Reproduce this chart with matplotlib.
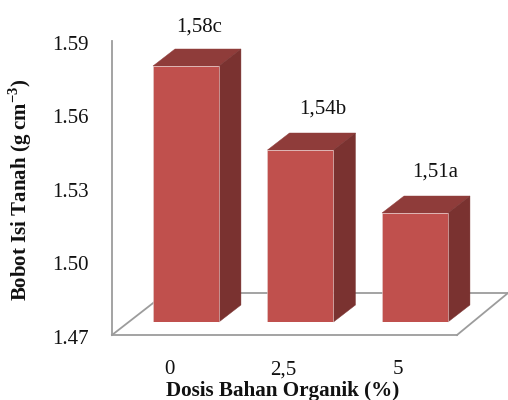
import matplotlib
matplotlib.use("Agg")
import matplotlib.pyplot as plt
from matplotlib.patches import Polygon
from matplotlib.lines import Line2D
from matplotlib.transforms import ScaledTranslation

plt.rcParams["font.family"] = ["Liberation Serif", "DejaVu Serif"]
plt.rcParams["mathtext.fontset"] = "custom"
plt.rcParams["mathtext.rm"] = "Liberation Serif"
plt.rcParams["mathtext.bf"] = "Liberation Serif:bold"

categories = ["0", "2,5", "5"]
values = [1.58, 1.54, 1.51]
letters = ["c", "b", "a"]
y_ticks = [1.47, 1.50, 1.53, 1.56, 1.59]
x_title = "Dosis Bahan Organik (%)"
y_title = r"Bobot Isi Tanah (g cm$^{\mathbf{-3}}$)"

FRONT, TOP, SIDE = "#c0504d", "#8f3c3a", "#7a3230"
AXIS = "#9c9c9c"
TEXT = "#111111"
W, H = 508, 400
DX, DY = 22, 17            # bar depth in pixels
FX, FY = 51, 42            # floor depth in pixels
L, R = 112, 457
BASE = 1.4581              # value at the foot of the bars


def box(x0, x1, y_top, y_bot):
    return [x0 / W, 1 - y_bot / H, (x1 - x0) / W, (y_bot - y_top) / H]


fig = plt.figure(figsize=(W / 100, H / 100), dpi=100)

# Value axis and floor of the 3D frame
ax = fig.add_axes(box(L, R, 41, 335))
ax.set_xlim(0, 1)
ax.set_ylim(1.47, 1.59)
ax.patch.set_visible(False)
for s in ("top", "right"):
    ax.spines[s].set_visible(False)
for s in ("left", "bottom"):
    ax.spines[s].set_color(AXIS)
    ax.spines[s].set_linewidth(1.3)
ax.set_xticks([])
ax.set_yticks(y_ticks)
ax.set_yticklabels([f"{t:.2f}" for t in y_ticks], fontsize=15, color=TEXT)
ax.tick_params(axis="y", length=0, pad=16.5)
nudge = ScaledTranslation(0, -2 / 100, fig.dpi_scale_trans)
for lab in ax.get_yticklabels():
    lab.set_transform(lab.get_transform() + nudge)

floor = [
    [(L, 335), (L + FX + 3, 335 - FY)],
    [(L + FX + 3, 335 - FY), (R + FX, 335 - FY)],
    [(R, 335), (R + FX, 335 - FY)],
]
for (x0, y0), (x1, y1) in floor:
    fig.add_artist(Line2D([x0 / W, x1 / W], [1 - y0 / H, 1 - y1 / H],
                          color=AXIS, lw=1.3, transform=fig.transFigure, zorder=1))

# Bars, on their own value scale because of the 3D foreshortening
bx = fig.add_axes(box(L, R, 41, 322), zorder=3)
bx.set_xlim(-0.646, 2.367)
bx.set_ylim(BASE, 1.5919)
bx.axis("off")
positions = list(range(len(values)))
bar_width = 0.576
bx.bar(positions, [v - BASE for v in values], bottom=BASE, width=bar_width,
       color=FRONT, edgecolor="#e6cfce", linewidth=0.4, zorder=3)

for pos, val in zip(positions, values):
    xl, xr = pos - bar_width / 2, pos + bar_width / 2
    fl = bx.transData.transform((xl, val))
    fr = bx.transData.transform((xr, val))
    br0 = bx.transData.transform((xr, BASE))
    top_face = [fl, fr, fr + (DX, DY), fl + (DX, DY)]
    side_face = [fr, br0, br0 + (DX, DY), fr + (DX, DY)]
    for face, colour in ((top_face, TOP), (side_face, SIDE)):
        bx.add_patch(Polygon(face, closed=True, transform=None, facecolor=colour,
                             edgecolor=colour, linewidth=0.3, zorder=2, clip_on=False))

# Value labels above each bar, nudged in pixels
label_dx = [13, 22, 20]
label_dy = [39, 41, 41]
for pos, val, let, ox, oy in zip(positions, values, letters, label_dx, label_dy):
    bx.annotate(f"{val:.2f}".replace(".", ",") + let, (pos, val),
                xytext=(ox * 0.72, oy * 0.72), textcoords="offset points",
                ha="center", va="center", fontsize=15, color=TEXT,
                annotation_clip=False, zorder=5)

# Category labels under the floor
for pos, name in zip(positions, categories):
    x_pix = bx.transData.transform((pos, BASE))[0] - 17
    fig.text(x_pix / W, 1 - 370 / H, name, ha="center", va="center",
             fontsize=15, color=TEXT)

fig.text(283 / W, 1 - 391 / H, x_title, ha="center", va="center",
         fontsize=15.2, fontweight="bold", color=TEXT)
fig.text(20 / W, 1 - 190 / H, y_title, rotation=90, ha="center", va="center",
         fontsize=15, fontweight="bold", color=TEXT)

fig.savefig("out.png", dpi=100)
